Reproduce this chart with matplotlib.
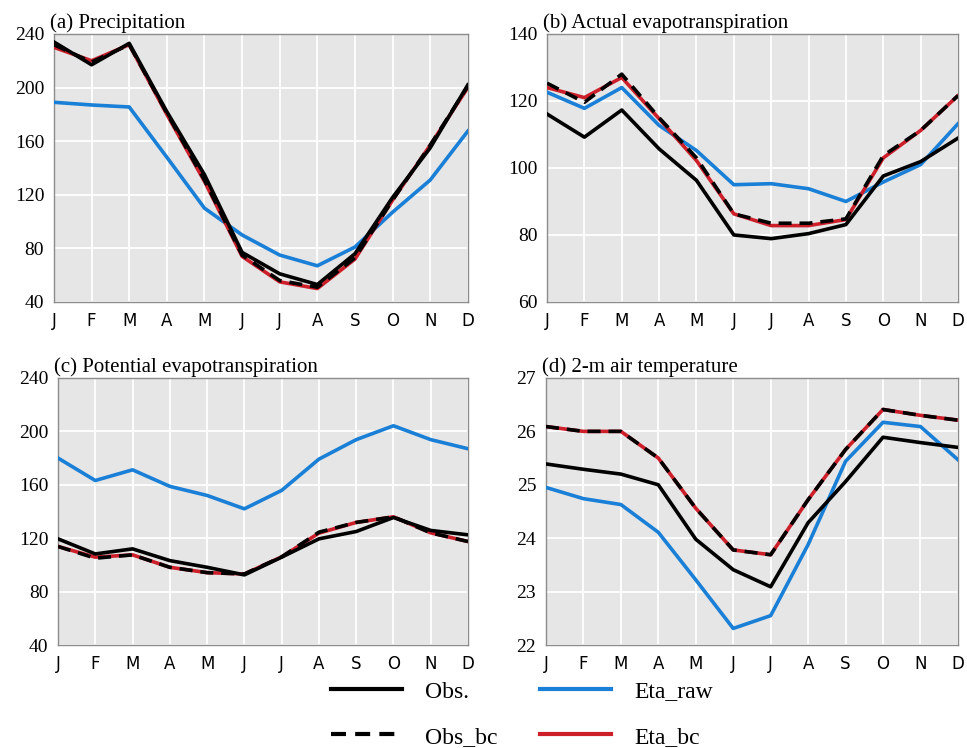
import numpy as np
import matplotlib.pyplot as plt
from matplotlib.lines import Line2D

months = ["J", "F", "M", "A", "M", "J", "J", "A", "S", "O", "N", "D"]

# (a) Precipitation
prec_obs = [234, 217, 233, 182, 135, 77, 61, 53, 76, 118, 155, 202]
prec_obs_bc = [232, 219, 232, 181, 131, 75, 56, 51, 73, 116, 157, 201]
prec_eta_raw = [189, 187, 185.5, 148, 110, 90, 75, 67, 81, 107, 131, 167.5]
prec_eta_bc = [230, 220, 232, 180, 130, 74, 55, 50, 72, 116, 157, 200]

# (b) Actual evapotranspiration
aet_obs = [116.1, 109.2, 117.3, 105.7, 96.3, 80.0, 78.9, 80.4, 83.1, 97.6, 101.9, 108.9]
aet_obs_bc = [125.3, 119.6, 128.0, 115.0, 103.0, 86.3, 83.5, 83.5, 84.8, 103.7, 111.2, 121.6]
aet_eta_raw = [122.6, 117.8, 124.0, 112.7, 105.2, 95.0, 95.3, 93.8, 90.0, 95.8, 101.0, 113.2]
aet_eta_bc = [124.0, 121.0, 127.0, 114.7, 102.2, 86.3, 82.8, 82.8, 84.6, 103.0, 111.2, 121.6]

# (c) Potential evapotranspiration
pet_obs = [119.5, 108.2, 112.0, 103.2, 98.2, 92.5, 105.8, 119.5, 125.0, 135.5, 125.8, 122.5]
pet_obs_bc = [113.8, 105.0, 107.5, 98.2, 94.2, 93.2, 106.0, 124.5, 131.8, 136.0, 124.0, 117.5]
pet_eta_raw = [180.0, 163.2, 171.2, 158.8, 152.0, 142.0, 155.8, 179.2, 193.8, 204.2, 193.8, 187.0]
pet_eta_bc = [113.8, 105.8, 107.5, 98.2, 94.2, 93.2, 106.0, 123.8, 131.8, 136.0, 124.0, 117.5]

# (d) 2-m air temperature
t2m_obs = [25.39, 25.29, 25.20, 25.00, 23.98, 23.41, 23.09, 24.29, 25.06, 25.89, 25.79, 25.70]
t2m_obs_bc = [26.09, 26.00, 26.00, 25.50, 24.56, 23.78, 23.69, 24.72, 25.66, 26.41, 26.30, 26.21]
t2m_eta_raw = [24.95, 24.74, 24.63, 24.11, 23.22, 22.31, 22.55, 23.88, 25.44, 26.17, 26.09, 25.47]
t2m_eta_bc = [26.09, 26.00, 26.00, 25.50, 24.56, 23.78, 23.69, 24.72, 25.66, 26.41, 26.30, 26.21]

BLUE = "#1a7fd6"
RED = "#cc1f2a"
SERIF = "Liberation Serif"
SANS = "DejaVu Sans"
DASH = (0, (3.6, 2.2))

panels = [
    ("(a) Precipitation", prec_obs, prec_obs_bc, prec_eta_raw, prec_eta_bc,
     (40, 240), [40, 80, 120, 160, 200, 240], [0.0558, 0.5963, 0.428, 0.3583]),
    ("(b) Actual evapotranspiration", aet_obs, aet_obs_bc, aet_eta_raw, aet_eta_bc,
     (60, 140), [60, 80, 100, 120, 140], [0.5657, 0.5963, 0.425, 0.3583]),
    ("(c) Potential evapotranspiration", pet_obs, pet_obs_bc, pet_eta_raw, pet_eta_bc,
     (40, 240), [40, 80, 120, 160, 200, 240], [0.060, 0.1377, 0.424, 0.357]),
    ("(d) 2-m air temperature", t2m_obs, t2m_obs_bc, t2m_eta_raw, t2m_eta_bc,
     (22, 27), [22, 23, 24, 25, 26, 27], [0.5646, 0.1377, 0.426, 0.357]),
]

fig = plt.figure(figsize=(9.67, 7.48), dpi=100)
x = np.arange(len(months))
lw = 2.6

for title, obs, obs_bc, raw, bc, ylim, yticks, rect in panels:
    ax = fig.add_axes(rect)
    ax.set_facecolor("#e6e6e6")
    ax.plot(x, raw, color=BLUE, lw=lw, zorder=3)
    ax.plot(x, bc, color=RED, lw=lw, zorder=4)
    ax.plot(x, obs_bc, color="black", lw=lw, ls=DASH, zorder=5)
    ax.plot(x, obs, color="black", lw=lw, zorder=6)
    ax.set_xlim(0, 11)
    ax.set_ylim(*ylim)
    ax.set_xticks(x)
    ax.set_xticklabels(months, family=SANS, fontsize=12)
    ax.set_yticks(yticks)
    ax.set_yticklabels([str(t) for t in yticks], family=SERIF, fontsize=14)
    ax.tick_params(axis="x", length=0, pad=7)
    ax.tick_params(axis="y", length=0, pad=7)
    ax.grid(True, color="white", lw=1.3)
    ax.set_axisbelow(True)
    for s in ax.spines.values():
        s.set_color("#8c8c8c")
        s.set_linewidth(1.0)
    ax.set_title(title, loc="left", x=-0.01, family=SERIF, fontsize=15, pad=4)

handles = [
    Line2D([], [], color="black", lw=3),
    Line2D([], [], color="black", lw=3, ls=DASH),
    Line2D([], [], color=BLUE, lw=3),
    Line2D([], [], color=RED, lw=3),
]
labels = ["Obs.", "Obs_bc", "Eta_raw", "Eta_bc"]
fig.legend(handles, labels, ncol=2, loc="center", bbox_to_anchor=(0.54, 0.045),
           frameon=False, prop={"family": SERIF, "size": 17},
           handlelength=3.0, handletextpad=1.0, columnspacing=1.8, labelspacing=1.0)

fig.savefig("out.png", dpi=100)
